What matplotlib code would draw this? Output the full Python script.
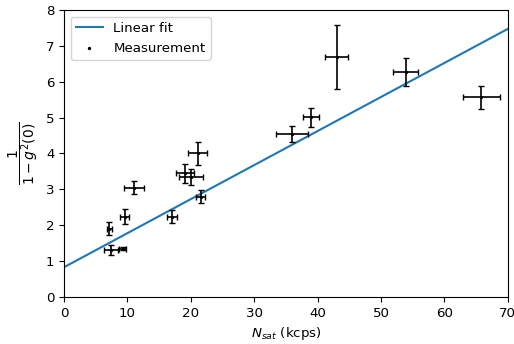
import numpy as np
import matplotlib
matplotlib.use("Agg")
import matplotlib.pyplot as plt

plt.rcParams["font.size"] = 9.6

n_sat = np.array([7.36, 7.15, 9.25, 9.56, 11.09, 17.0, 21.55, 21.07, 19.08, 20.0,
                  35.95, 38.94, 43.0, 53.87, 65.8])
n_sat_err = np.array([1.1, 0.4, 0.5, 0.7, 1.55, 0.8, 0.76, 1.45, 1.47, 1.9,
                      2.55, 1.26, 1.79, 1.97, 2.94])
inv_g2 = np.array([1.31, 1.9, 1.35, 2.24, 3.05, 2.24, 2.8, 4.0, 3.45, 3.35,
                   4.54, 5.01, 6.68, 6.26, 5.57])
inv_g2_err = np.array([0.15, 0.18, 0.05, 0.21, 0.19, 0.19, 0.17, 0.33, 0.26, 0.22,
                       0.22, 0.26, 0.89, 0.39, 0.32])

# Fit-Parameter
fit_intercept = 0.83
fit_slope = 0.0949

fig = plt.figure(figsize=(5.14, 3.44), dpi=100)
ax = fig.add_axes([0.1245, 0.1366, 0.8635, 0.8344])

x_plot = np.linspace(0, 70, 200)
ax.plot(x_plot, fit_intercept + fit_slope * x_plot, label="Linear fit")
ax.scatter(n_sat, inv_g2, s=2, c="k", label="Measurement")
ax.errorbar(n_sat, inv_g2, xerr=n_sat_err, yerr=inv_g2_err, fmt="none",
            ecolor="k", elinewidth=1.2, capsize=2)

ax.set_xlim(0, 70)
ax.set_ylim(0, 8)
ax.set_xlabel(r"$N_{sat}$ (kcps)")
ax.set_ylabel(r"$\dfrac{1}{1-g^2(0)}$", fontsize=10)
ax.legend(loc="upper left")

fig.savefig("out.png", dpi=100)
